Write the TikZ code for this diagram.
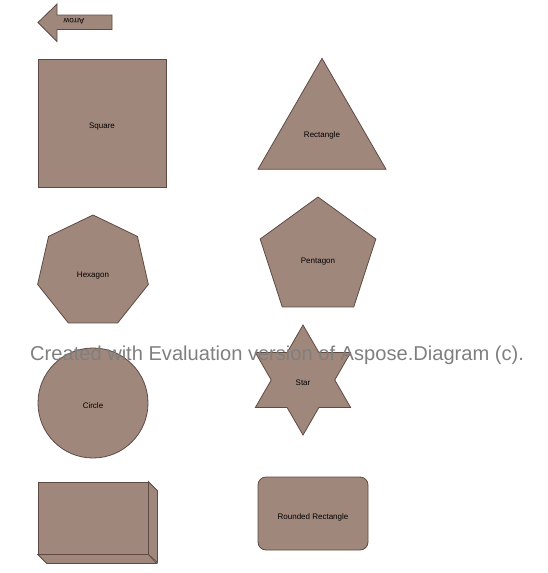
\documentclass[tikz,border=0pt]{standalone}
\usepackage{fontspec}
\setmainfont{Liberation Sans}
\usepackage{tikz}
\usetikzlibrary{shapes.geometric}
\definecolor{shapefill}{HTML}{A0877B}
\definecolor{shapeline}{HTML}{5E4A43}
\definecolor{markgray}{HTML}{7F7F7F}
\tikzset{
  figure/.style={draw=shapeline, fill=shapefill, line width=0.8pt, inner sep=0pt, text height=11pt, text depth=0pt, font=\fontsize{8}{9}\selectfont},
  poly/.style={figure, regular polygon},
  watermark/.style={text=markgray, font=\fontsize{20.1}{24}\selectfont, inner sep=0pt, anchor=base west}
}

\begin{document}
\begin{tikzpicture}[x=1pt, y=-1pt]
  \useasboundingbox (0,0) rectangle (547,573);

  % arrow, pointing left
  \draw[figure] (38,22.5) -- (57,4) -- (57,15) -- (112,15) -- (112,29.5) -- (57,29.5) -- (57,41.5) -- cycle;
  \node[font=\fontsize{8}{9}\selectfont, rotate=180] (arrowlbl) at (74,21.5) {Arrow};

  \node[figure, minimum size=128pt] (square) at (102,123) {Square};
  \node[poly, regular polygon sides=3, minimum size=147.8pt] (tri) at (322,132.3) {Rectangle};

  \node[poly, regular polygon sides=7, minimum size=113.6pt] (hept) at (93,271.8) {Hexagon};
  \node[poly, regular polygon sides=5, minimum size=121.6pt] (pent) at (318,257.8) {Pentagon};

  \node[figure, circle, minimum size=110pt] (circ) at (93,403) {Circle};
  \node[figure, star, star points=6, star point ratio=1.732, minimum size=110pt] (star) at (303,380) {Star};

  % box with depth
  \node[figure, minimum width=110pt, minimum height=72pt] (box) at (93,518) {};
  \draw[figure] (box.north east) -- ++(9,9) -- ++(0,72) -- (box.south east) -- cycle;
  \draw[figure] (box.south west) -- ++(9,9) -- ++(110,0) -- (box.south east) -- cycle;
  \node[figure, rounded corners=8pt, minimum width=110pt, minimum height=73pt] (rrect) at (313,513.5) {Rounded Rectangle};

  \node[watermark] (mark) at (30,360.5) {Created with Evaluation version of Aspose.Diagram (c).};
\end{tikzpicture}
\end{document}
